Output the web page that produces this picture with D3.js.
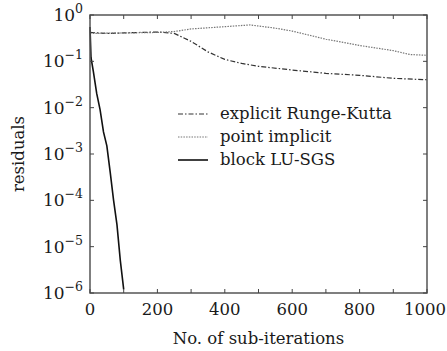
<!DOCTYPE html>
<html>
<head>
  <meta charset="utf-8" />
  <script src="https://d3js.org/d3.v7.min.js"></script>
  <style>
    body { margin: 0; background: #fff; }
    text { font-family: "DejaVu Serif", "Liberation Serif", serif; fill: #1a1a1a; }
  </style>
</head>
<body>
  <svg id="chart" width="447" height="351"></svg>
  <script>
    // iterations (x) and residuals (y)
    const rkIter = [0, 50, 100, 150, 200, 250, 300, 350, 400, 450, 500, 600, 700, 800, 900, 1000];
    const rkRes = [0.42, 0.40, 0.41, 0.42, 0.43, 0.40, 0.27, 0.16, 0.11, 0.09, 0.078, 0.065, 0.055, 0.05, 0.043, 0.04];

    const piIter = [0, 100, 200, 250, 300, 400, 475, 550, 600, 700, 800, 900, 950, 1000];
    const piRes = [0.40, 0.41, 0.42, 0.44, 0.50, 0.56, 0.61, 0.52, 0.45, 0.30, 0.22, 0.17, 0.14, 0.135];

    const luIter = [0, 3, 10, 20, 30, 40, 50, 60, 70, 80, 90, 100];
    const luRes = [0.55, 0.12, 0.06, 0.02, 0.009, 0.003, 0.0015, 0.0004, 0.0001, 0.00003, 0.000005, 0.0000012];

    const xTicks = [0, 200, 400, 600, 800, 1000];
    const xMinor = [100, 300, 500, 700, 900];
    const yExps = [0, -1, -2, -3, -4, -5, -6];

    const series = [
      { name: "explicit Runge-Kutta", x: rkIter, y: rkRes, color: "#333", dash: "5,2,1.5,2", width: 1.2 },
      { name: "point implicit", x: piIter, y: piRes, color: "#777", dash: "1.5,1.2", width: 1.2 },
      { name: "block LU-SGS", x: luIter, y: luRes, color: "#111", dash: null, width: 1.6 }
    ];

    const svg = d3.select("#chart");
    const margin = { top: 15, right: 20, bottom: 58, left: 90 };
    const width = 447, height = 351;
    const x = d3.scaleLinear().domain([0, 1000]).range([margin.left, width - margin.right]);
    const y = d3.scaleLog().domain([1e-6, 1]).range([height - margin.bottom, margin.top]);

    // lines
    const line = d3.line().x(d => x(d[0])).y(d => y(d[1]));
    series.forEach(s => {
      const pts = s.x.map((v, i) => [v, s.y[i]]);
      svg.append("path").datum(pts)
        .attr("fill", "none")
        .attr("stroke", s.color)
        .attr("stroke-width", s.width)
        .attr("stroke-dasharray", s.dash)
        .attr("d", line);
    });

    // frame
    svg.append("rect")
      .attr("x", x(0)).attr("y", y(1))
      .attr("width", x(1000) - x(0)).attr("height", y(1e-6) - y(1))
      .attr("fill", "none").attr("stroke", "#555").attr("stroke-width", 1.5);

    // inward ticks on all sides
    const tickLen = 4;
    xTicks.concat(xMinor).forEach(t => {
      svg.append("line").attr("x1", x(t)).attr("x2", x(t))
        .attr("y1", y(1e-6)).attr("y2", y(1e-6) - tickLen).attr("stroke", "#444");
      svg.append("line").attr("x1", x(t)).attr("x2", x(t))
        .attr("y1", y(1)).attr("y2", y(1) + tickLen).attr("stroke", "#444");
    });
    yExps.forEach(e => {
      const v = Math.pow(10, e);
      svg.append("line").attr("x1", x(0)).attr("x2", x(0) + tickLen)
        .attr("y1", y(v)).attr("y2", y(v)).attr("stroke", "#444");
      svg.append("line").attr("x1", x(1000)).attr("x2", x(1000) - tickLen)
        .attr("y1", y(v)).attr("y2", y(v)).attr("stroke", "#444");
    });

    // x tick labels (keep the last one inside the window)
    svg.selectAll(".xl").data(xTicks).join("text")
      .attr("y", y(1e-6) + 22)
      .attr("font-size", 16.5)
      .text(d => d)
      .each(function (d) {
        const w = this.getComputedTextLength();
        const left = Math.min(x(d) - w / 2, width - 1 - w);
        d3.select(this).attr("x", left);
      });

    // y tick labels 10^e, right edges aligned
    yExps.forEach(e => {
      const t = svg.append("text")
        .attr("y", y(Math.pow(10, e)) + 6)
        .attr("font-size", 17);
      t.append("tspan").text("10");
      t.append("tspan").attr("font-size", 12.5).attr("dy", -8).text(e === 0 ? "0" : "\u2212" + (-e));
      t.attr("x", x(0) - 7 - t.node().getComputedTextLength());
    });

    // axis titles
    svg.append("text")
      .attr("x", (x(0) + x(1000)) / 2).attr("y", 344)
      .attr("text-anchor", "middle").attr("font-size", 16.5)
      .text("No. of sub-iterations");
    svg.append("text")
      .attr("transform", "translate(24," + ((y(1) + y(1e-6)) / 2) + ") rotate(-90)")
      .attr("text-anchor", "middle").attr("font-size", 16.5)
      .text("residuals");

    // legend
    const legend = svg.append("g").attr("transform", "translate(178,114)");
    series.forEach((s, i) => {
      const g = legend.append("g").attr("transform", "translate(0," + (i * 23) + ")");
      g.append("line").attr("x1", 0).attr("x2", 30).attr("y1", 0).attr("y2", 0)
        .attr("stroke", s.color).attr("stroke-width", s.width)
        .attr("stroke-dasharray", s.dash);
      g.append("text").attr("x", 42).attr("y", 5).attr("font-size", 16.5).text(s.name);
    });
  </script>
</body>
</html>
